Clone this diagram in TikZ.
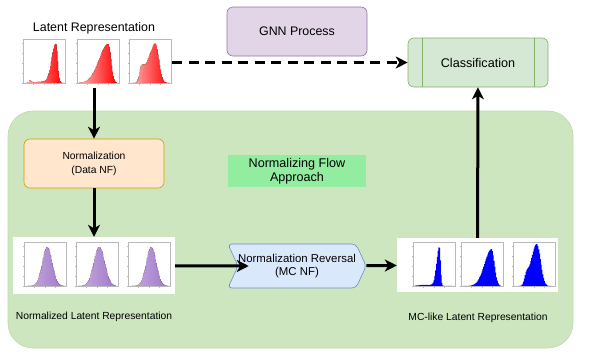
\documentclass[tikz,border=0pt]{standalone}
\usepackage{fontspec}
\setmainfont{Liberation Sans}
\usepackage{tikz}
\usetikzlibrary{arrows.meta,positioning,calc,shapes.symbols}

\definecolor{gnnfill}{RGB}{225,213,231}
\definecolor{gnnline}{RGB}{150,115,166}
\definecolor{classfill}{RGB}{213,232,212}
\definecolor{classline}{RGB}{130,179,102}
\definecolor{normfill}{RGB}{255,230,204}
\definecolor{normline}{RGB}{215,155,0}
\definecolor{revfill}{RGB}{218,232,252}
\definecolor{revline}{RGB}{108,142,191}
\definecolor{flowfill}{RGB}{205,230,192}
\definecolor{flowline}{RGB}{188,218,172}
\definecolor{nfgreen}{RGB}{146,237,160}
\definecolor{histpurple}{RGB}{150,105,195}

\newcommand{\histpanel}[4]{%
  \begin{scope}[shift={(#1,#2)}]
    \fill[#3] (2,44) -- plot[const plot,domain=0:1,samples=48,variable=\t]
      ({2+38*\t},{44-41*(#4)}) -- (40,44) -- cycle;
    \draw[panel] (0,0) rectangle (42,44);
    \foreach \k in {0,...,4} \draw[panel] (0,{44-10*\k}) -- (-1.5,{44-10*\k});
    \foreach \k in {1,2,3} \draw[panel] ({10.5*\k},44) -- ({10.5*\k},45.5);
  \end{scope}}

\begin{document}
\begin{tikzpicture}[x=1pt,y=-1pt,
  declare function={sk(\t,\m,\a,\b)=exp(-((\t-\m)/((\t<\m)?\a:\b))^2);},
  flow/.style={-{Stealth[length=12pt,width=12pt,inset=3.5pt]},line width=3pt},
  dashflow/.style={flow,dash pattern=on 10pt off 6.5pt},
  box/.style={draw,rounded corners=6pt,line width=0.6pt,minimum width=140,minimum height=49,
    align=center,font=\fontsize{12.4}{14.5}\selectfont},
  imgbox/.style={fill=white,inner sep=0pt},
  panel/.style={draw=gray!55,line width=0.35pt},
  lab/.style={font=\fontsize{10.3}{13}\selectfont}]
\useasboundingbox (0,0) rectangle (593,351);
\node[draw=flowline,fill=flowfill,rounded corners=25pt,line width=0.6pt,
  minimum width=565,minimum height=237] (flowbg) at (290.5,229.5) {};
\node[fill=nfgreen,minimum width=138,minimum height=30,align=center,
  font=\fontsize{12.6}{14.5}\selectfont] (nfapproach) at (297,171) {Normalizing Flow\\Approach};

\node[font=\fontsize{12.4}{14.5}\selectfont] (latenttitle) at (94,28) {Latent Representation};
\node[imgbox,minimum width=156,minimum height=50] (latent) at (94,62.5) {};
\node[box,draw=gnnline,fill=gnnfill] (gnn) at (297,31.5) {GNN Process};
\node[box,draw=classline,fill=classfill,font=\fontsize{12.6}{14.5}\selectfont] (classif) at (478,62.5) {Classification};
\draw[draw=classline,line width=0.6pt] ([xshift=15]classif.north west) -- ([xshift=15]classif.south west);
\draw[draw=classline,line width=0.6pt] ([xshift=-14]classif.north east) -- ([xshift=-14]classif.south east);

\node[box,draw=normline,fill=normfill,font=\fontsize{10.3}{14}\selectfont] (norm) at (94,163.5) {Normalization\\(Data NF)};
\node[imgbox,minimum width=162,minimum height=57] (normimg) at (94,265.5) {};
\node[lab] (normcap) at (94,317) {Normalized Latent Representation};

\node[signal,signal from=west,signal to=east,signal pointer angle=130,draw=revline,fill=revfill,
  line width=0.6pt,rounded corners=4pt,minimum width=130,minimum height=44,inner sep=0pt,
  align=center,font=\fontsize{11.4}{13.5}\selectfont] (reversal) at (297,266) {Normalization Reversal\\(MC NF)};
\node[imgbox,minimum width=161,minimum height=54] (mcimg) at (477.5,265) {};
\node[lab] (mccap) at (478,318) {MC-like Latent Representation};

\histpanel{23}{39}{left color=red!30,right color=red}{0.06*sk(\t,0.12,0.03,0.05)+0.03*sk(\t,0.45,0.3,0.3)+0.95*sk(\t,0.8,0.15,0.065)}
\histpanel{77}{39}{left color=red!30,right color=red}{0.95*sk(\t,0.76,0.34,0.1)}
\histpanel{129}{39}{left color=red!30,right color=red}{0.95*sk(\t,0.63,0.16,0.13)+0.4*sk(\t,0.27,0.08,0.12)+0.3*sk(\t,0.45,0.12,0.1)}

\histpanel{24}{242}{left color=histpurple!55,right color=histpurple!90}{0.95*exp(-((\t-0.55)/0.18)^2)}
\histpanel{76}{242}{left color=histpurple!55,right color=histpurple!90}{0.95*exp(-((\t-0.55)/0.2)^2)}
\histpanel{128}{242}{left color=histpurple!55,right color=histpurple!90}{0.95*exp(-((\t-0.55)/0.18)^2)}

\histpanel{413}{242}{fill=blue}{0.95*sk(\t,0.63,0.1,0.045)+0.03*sk(\t,0.3,0.3,0.3)}
\histpanel{461}{242}{fill=blue}{0.9*sk(\t,0.74,0.26,0.11)}
\histpanel{513}{242}{fill=blue}{0.95*sk(\t,0.58,0.14,0.13)+0.35*sk(\t,0.3,0.08,0.12)+0.3*sk(\t,0.45,0.1,0.1)}

\draw[dashflow] (latent) -- (classif);
\draw[flow] (latent) -- (norm);
\draw[flow] (norm) -- (normimg);
\draw[flow] (normimg) -- ([xshift=11]reversal.west);
\draw[flow] (reversal) -- (mcimg);
\draw[flow] (mcimg) -- (classif);
\end{tikzpicture}
\end{document}
